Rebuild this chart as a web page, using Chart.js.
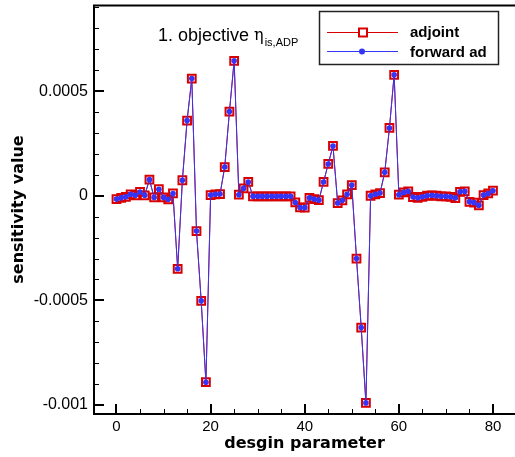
<!DOCTYPE html>
<html><head><meta charset="utf-8">
<script src="https://cdn.jsdelivr.net/npm/chart.js@4.4.1/dist/chart.umd.min.js"></script>
<style>html,body{margin:0;padding:0;background:#fff}#c{display:block}</style>
</head><body>
<canvas id="c" width="515" height="457"></canvas>
<script>
const designParams = [0,1,2,3,4,5,6,7,8,9,10,11,12,13,14,15,16,17,18,19,20,21,22,23,24,25,26,27,28,29,30,31,32,33,34,35,36,37,38,39,40,41,42,43,44,45,46,47,48,49,50,51,52,53,54,55,56,57,58,59,60,61,62,63,64,65,66,67,68,69,70,71,72,73,74,75,76,77,78,79,80];
const adjoint = [-1.6e-5,-1.0e-5,-0.5e-5,0.7e-5,0.2e-5,1.8e-5,0.2e-5,7.7e-5,-0.8e-5,3.1e-5,-0.8e-5,-1.7e-5,1.1e-5,-34.9e-5,7.4e-5,35.9e-5,56.0e-5,-16.9e-5,-50.2e-5,-89.1e-5,0.3e-5,0.7e-5,0.8e-5,13.7e-5,40.2e-5,64.5e-5,0.5e-5,3.5e-5,6.6e-5,-0.3e-5,-0.3e-5,-0.3e-5,-0.3e-5,-0.3e-5,-0.3e-5,-0.3e-5,-0.3e-5,-0.3e-5,-3.2e-5,-5.6e-5,-5.7e-5,-1.0e-5,-1.6e-5,-2.1e-5,6.6e-5,15.2e-5,23.8e-5,-3.5e-5,-2.2e-5,0.7e-5,5.1e-5,-30.0e-5,-63.0e-5,-99.0e-5,0,0.7e-5,1.3e-5,11.2e-5,32.4e-5,57.8e-5,0.5e-5,1.6e-5,2.1e-5,-0.6e-5,-1.0e-5,-0.5e-5,0,0.2e-5,0,-0.3e-5,-0.3e-5,-0.5e-5,-1.1e-5,1.9e-5,2.1e-5,-2.9e-5,-3.3e-5,-4.6e-5,0.3e-5,1.1e-5,2.4e-5];
const forwardAd = [-1.6e-5,-1.0e-5,-0.5e-5,0.7e-5,0.2e-5,1.8e-5,0.2e-5,7.7e-5,-0.8e-5,3.1e-5,-0.8e-5,-1.7e-5,1.1e-5,-34.9e-5,7.4e-5,35.9e-5,56.0e-5,-16.9e-5,-50.2e-5,-89.1e-5,0.3e-5,0.7e-5,0.8e-5,13.7e-5,40.2e-5,64.5e-5,0.5e-5,3.5e-5,6.6e-5,-0.3e-5,-0.3e-5,-0.3e-5,-0.3e-5,-0.3e-5,-0.3e-5,-0.3e-5,-0.3e-5,-0.3e-5,-3.2e-5,-5.6e-5,-5.7e-5,-1.0e-5,-1.6e-5,-2.1e-5,6.6e-5,15.2e-5,23.8e-5,-3.5e-5,-2.2e-5,0.7e-5,5.1e-5,-30.0e-5,-63.0e-5,-99.0e-5,0,0.7e-5,1.3e-5,11.2e-5,32.4e-5,57.8e-5,0.5e-5,1.6e-5,2.1e-5,-0.6e-5,-1.0e-5,-0.5e-5,0,0.2e-5,0,-0.3e-5,-0.3e-5,-0.5e-5,-1.1e-5,1.9e-5,2.1e-5,-2.9e-5,-3.3e-5,-4.6e-5,0.3e-5,1.1e-5,2.4e-5];
const xTickValues = [0,5,10,15,20,25,30,35,40,45,50,55,60,65,70,75,80];
const xMajorTicks = [0,20,40,60,80];
const xMajorLabels = ['0','20','40','60','80'];
const yTickValues = [-0.001,-0.0009,-0.0008,-0.0007,-0.0006,-0.0005,-0.0004,-0.0003,-0.0002,-0.0001,0,0.0001,0.0002,0.0003,0.0004,0.0005,0.0006,0.0007,0.0008,0.0009];
const yMajorTicks = [-0.001,-0.0005,0,0.0005];
const yMajorLabels = ['-0.001','-0.0005','0','0.0005'];
const seriesNames = ['adjoint','forward ad'];
const titleMain = '1. objective ';
const titleSymbol = 'η';
const titleSub = 'is,ADP';

const RED = '#d80000', BLUE = '#3535f8';
const labelFor = (v, majors, labels) => {
  const i = majors.findIndex(m => Math.abs(m - v) < 1e-12);
  return i >= 0 ? labels[i] : '';
};

const framePlugin = {
  id: 'frame',
  afterDraw(chart) {
    const {ctx, chartArea: a, scales: {x, y}} = chart;
    ctx.save();
    ctx.strokeStyle = '#000';
    x.ticks.forEach(t => {
      const px = Math.round(x.getPixelForValue(t.value));
      const major = labelFor(t.value, xMajorTicks, xMajorLabels) !== '';
      ctx.lineWidth = major ? 2 : 1;
      ctx.beginPath();
      ctx.moveTo(px + (major ? 0 : 0.5), a.bottom);
      ctx.lineTo(px + (major ? 0 : 0.5), a.bottom - (major ? 10 : 5));
      ctx.stroke();
    });
    y.ticks.forEach(t => {
      const py = Math.round(y.getPixelForValue(t.value));
      const major = labelFor(t.value, yMajorTicks, yMajorLabels) !== '';
      ctx.lineWidth = major ? 2 : 1;
      ctx.beginPath();
      ctx.moveTo(a.left, py + (major ? 0 : 0.5));
      ctx.lineTo(a.left + (major ? 10 : 5), py + (major ? 0 : 0.5));
      ctx.stroke();
    });
    ctx.lineWidth = 2;
    ctx.beginPath();
    ctx.moveTo(a.right, a.top + 0.5);
    ctx.lineTo(a.left, a.top + 0.5);
    ctx.lineTo(a.left, a.bottom);
    ctx.lineTo(a.right, a.bottom);
    ctx.stroke();

    ctx.fillStyle = '#000';
    ctx.textBaseline = 'alphabetic';
    ctx.textAlign = 'left';
    ctx.font = '18px "Liberation Sans", Arial, sans-serif';
    let tx = 158, ty = 41;
    ctx.fillText(titleMain, tx, ty);
    tx += ctx.measureText(titleMain).width;
    ctx.font = '16px "DejaVu Serif", serif';
    ctx.fillText(titleSymbol, tx, ty - 1);
    tx += ctx.measureText(titleSymbol).width + 1;
    ctx.font = '11px "Liberation Sans", Arial, sans-serif';
    ctx.fillText(titleSub, tx, ty + 5);

    ctx.fillStyle = '#fff';
    ctx.fillRect(319.5, 11.5, 179, 53);
    ctx.lineWidth = 1.5;
    ctx.strokeStyle = '#222';
    ctx.strokeRect(319.5, 11.5, 179, 53);
    ctx.lineWidth = 1;
    ctx.strokeStyle = RED;
    ctx.beginPath(); ctx.moveTo(327, 32.5); ctx.lineTo(398, 32.5); ctx.stroke();
    ctx.lineWidth = 2;
    ctx.fillStyle = '#fff';
    ctx.fillRect(359, 28.5, 8, 8);
    ctx.strokeRect(359, 28.5, 8, 8);
    ctx.lineWidth = 1;
    ctx.strokeStyle = BLUE;
    ctx.beginPath(); ctx.moveTo(327, 51.5); ctx.lineTo(398, 51.5); ctx.stroke();
    ctx.fillStyle = BLUE;
    ctx.beginPath(); ctx.arc(362, 51.5, 3, 0, Math.PI * 2); ctx.fill();
    ctx.fillStyle = '#000';
    ctx.font = 'bold 15px "Liberation Sans", Arial, sans-serif';
    ctx.fillText(seriesNames[0], 410, 37);
    ctx.fillText(seriesNames[1], 410, 56.5);
    ctx.restore();
  }
};

new Chart(document.getElementById('c'), {
  type: 'line',
  data: {
    datasets: [
      {
        label: seriesNames[0],
        data: designParams.map((p, i) => ({x: p, y: adjoint[i]})),
        borderColor: RED, borderWidth: 1,
        pointStyle: 'rect', pointRadius: 5.5, pointBorderWidth: 2,
        pointBorderColor: RED, pointBackgroundColor: 'rgba(255,255,255,0)',
        order: 1, tension: 0
      },
      {
        label: seriesNames[1],
        data: designParams.map((p, i) => ({x: p, y: forwardAd[i]})),
        borderColor: BLUE, borderWidth: 1,
        pointStyle: 'circle', pointRadius: 2.8, pointBorderWidth: 0,
        pointBackgroundColor: BLUE, pointBorderColor: BLUE,
        order: 0, tension: 0
      }
    ]
  },
  options: {
    responsive: false, animation: false,
    devicePixelRatio: 1,
    layout: {autoPadding: false, padding: {top: 5, right: 0, left: 0, bottom: 0}},
    plugins: {legend: {display: false}, tooltip: {enabled: false}},
    scales: {
      x: {
        type: 'linear', min: -4.78, max: 84.68,
        afterBuildTicks: s => { s.ticks = xTickValues.map(v => ({value: v})); },
        afterFit: s => { s.height = 43; s.paddingLeft = 0; s.paddingRight = 0; s.paddingTop = 0; s.paddingBottom = 0; },
        grid: {display: false, drawTicks: false},
        border: {display: false},
        ticks: {
          autoSkip: false, maxRotation: 0, padding: 4, color: '#000',
          font: {family: '"Liberation Sans", Arial, sans-serif', size: 15},
          callback: v => labelFor(v, xMajorTicks, xMajorLabels)
        },
        title: {display: true, text: 'desgin parameter', color: '#000',
          font: {family: '"DejaVu Sans", sans-serif', size: 16, weight: 'bold'},
          padding: {top: 0, bottom: 4}}
      },
      y: {
        type: 'linear', min: -0.001043, max: 0.0009115,
        afterBuildTicks: s => { s.ticks = yTickValues.map(v => ({value: v})); },
        afterFit: s => { s.width = 94; s.paddingLeft = 0; s.paddingRight = 0; s.paddingTop = 0; s.paddingBottom = 0; },
        grid: {display: false, drawTicks: false},
        border: {display: false},
        ticks: {
          autoSkip: false, padding: 6, color: '#000',
          font: {family: '"Liberation Sans", Arial, sans-serif', size: 16},
          callback: v => labelFor(v, yMajorTicks, yMajorLabels)
        },
        title: {display: true, text: 'sensitivity value', color: '#000',
          font: {family: '"DejaVu Sans", sans-serif', size: 16, weight: 'bold'},
          padding: {top: 9, bottom: 0}}
      }
    }
  },
  plugins: [framePlugin]
});
</script>
</body></html>
